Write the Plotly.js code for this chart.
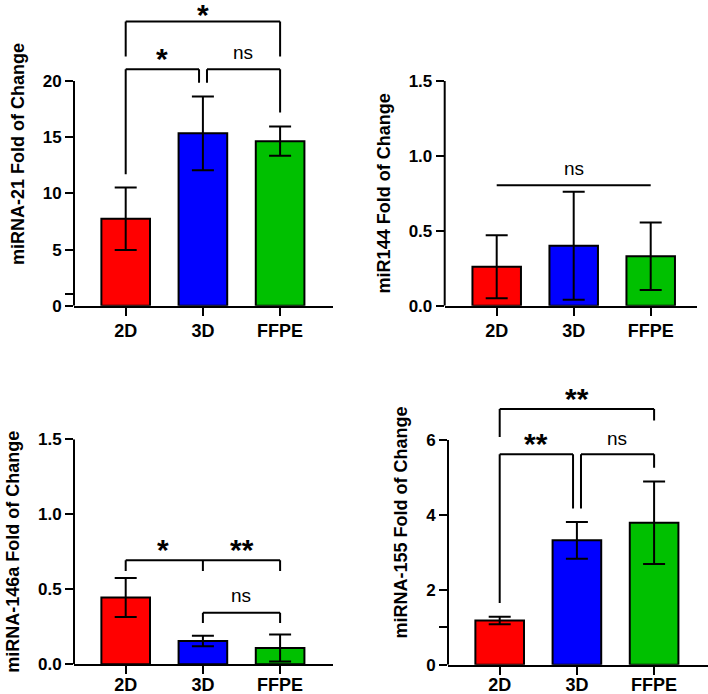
<!DOCTYPE html>
<html><head><meta charset="utf-8">
<script src="https://cdn.plot.ly/plotly-3.0.1.min.js"></script>
<style>html,body{margin:0;padding:0;background:#fff}</style>
</head><body><div id="chart" style="width:708px;height:694px"></div>
<script>
// ---------- data ----------
const categories = ['2D', '3D', 'FFPE'];

const mir21Mean = [7.75, 15.35, 14.65];
const mir21Sd   = [2.78, 3.28, 1.30];
const mir144Mean = [0.26, 0.40, 0.33];
const mir144Sd   = [0.21, 0.36, 0.225];
const mir146aMean = [0.445, 0.155, 0.108];
const mir146aSd   = [0.13, 0.035, 0.09];
const mir155Mean = [1.18, 3.32, 3.79];
const mir155Sd   = [0.10, 0.49, 1.10];

const yTitles = ['miRNA-21 Fold of Change', 'miR144 Fold of Change',
                 'miRNA-146a Fold of Change', 'miRNA-155 Fold of Change'];

const yTickVals21 = [0, 1, 5, 10, 15, 20];
const yTickText21 = ['0', '', '5', '10', '15', '20'];
const yTickValsSmall = [0, 0.5, 1, 1.5];
const yTickTextSmall = ['0.0', '0.5', '1.0', '1.5'];
const yTickVals155 = [0, 1, 2, 4, 6];
const yTickText155 = ['0', '', '2', '4', '6'];

// significance labels (comparison order as drawn)
const sig21 = ['*', 'ns', '*'];        // 2D-3D, 3D-FFPE, 2D-FFPE
const sig144 = ['ns'];                 // 2D..FFPE
const sig146a = ['*', '**', 'ns'];     // 2D-3D, 2D-FFPE, 3D-FFPE
const sig155 = ['**', 'ns', '**'];     // 2D-3D, 3D-FFPE, 2D-FFPE

// ---------- style / layout ----------
const barColors = ['#FF0000', '#0000FF', '#00C000'];
const FONT = 'Liberation Sans, Arial, Helvetica, sans-serif';
const W = 708, H = 694;

const panels = [
  {mean: mir21Mean, sd: mir21Sd, title: yTitles[0], tv: yTickVals21, tt: yTickText21,
   left: 74, right: 333, c0: 125.7, step: 77.2, y0: 305.7, ppu: 11.23, top: 27, axisMax: 20, lblOff: 0,
   brackets: [
     {x0: 0, x1: 0.95, y: 21.05, l0: 11.7, l1: 19.86},
     {x0: 1.053, x1: 2, y: 21.05, l0: 19.86, l1: 17.2},
     {x0: 0, x1: 2, y: 25.3, l0: 22.2, l1: 22.2}
   ],
   labels: [{x: 0.475, y: 22.4, t: sig21[0]}, {x: 1.52, y: 22.4, t: sig21[1]}, {x: 1, y: 26.3, t: sig21[2]}]},
  {mean: mir144Mean, sd: mir144Sd, title: yTitles[1], tv: yTickValsSmall, tt: yTickTextSmall,
   left: 444.7, right: 697, c0: 496.7, step: 77.0, y0: 305.7, ppu: 149.8, top: 1.5, axisMax: 1.5, lblOff: 0,
   brackets: [{x0: 0, x1: 2, y: 0.804, l0: null, l1: null}],
   labels: [{x: 1, y: 0.906, t: sig144[0]}]},
  {mean: mir146aMean, sd: mir146aSd, title: yTitles[2], tv: yTickValsSmall, tt: yTickTextSmall,
   left: 74, right: 332.7, c0: 125.7, step: 77.2, y0: 664.3, ppu: 150, top: 1.5, axisMax: 1.5, lblOff: -5,
   brackets: [
     {x0: 0, x1: 2, y: 0.693, l0: 0.622, l1: 0.622, mid: 1, ml: 0.622},
     {x0: 1, x1: 2, y: 0.344, l0: 0.276, l1: 0.276}
   ],
   labels: [{x: 0.487, y: 0.793, t: sig146a[0]}, {x: 1.5, y: 0.793, t: sig146a[1]}, {x: 1.49, y: 0.449, t: sig146a[2]}]},
  {mean: mir155Mean, sd: mir155Sd, title: yTitles[3], tv: yTickVals155, tt: yTickText155,
   left: 448, right: 707.5, c0: 499.7, step: 77.2, y0: 664.7, ppu: 37.45, top: 7.6, axisMax: 6, lblOff: -5,
   brackets: [
     {x0: 0, x1: 0.95, y: 5.62, l0: 1.65, l1: 4.17},
     {x0: 1.053, x1: 2, y: 5.62, l0: 4.17, l1: 5.26},
     {x0: 0, x1: 2, y: 6.83, l0: 6.08, l1: 6.52}
   ],
   labels: [{x: 0.466, y: 6.02, t: sig155[0]}, {x: 1.523, y: 6.0, t: sig155[1]}, {x: 1, y: 7.21, t: sig155[2]}]}
];

const traces = [];
const layout = {
  width: W, height: H, margin: {l: 0, r: 0, t: 0, b: 0},
  paper_bgcolor: '#fff', plot_bgcolor: 'rgba(0,0,0,0)',
  showlegend: false, shapes: [], annotations: [],
  font: {family: FONT, color: '#000'}
};

panels.forEach((p, i) => {
  const n = i + 1;
  const xs = n === 1 ? 'x' : 'x' + n;
  const ys = n === 1 ? 'y' : 'y' + n;
  traces.push({
    type: 'bar', x: categories, y: p.mean, xaxis: xs, yaxis: ys, width: 0.63,
    marker: {color: barColors, line: {color: '#000', width: 2}},
    error_y: {type: 'data', array: p.sd, visible: true, color: '#000', thickness: 2, width: 11},
    hoverinfo: 'x+y'
  });
  const topPx = p.y0 - p.top * p.ppu;
  const xa = {
    domain: [p.left / W, p.right / W], anchor: ys, type: 'category',
    range: [(p.left - p.c0) / p.step, (p.right - p.c0) / p.step],
    showline: true, linewidth: 2, linecolor: '#000', ticks: 'outside', ticklen: 8, tickwidth: 2, tickcolor: '#000',
    ticklabelstandoff: p.lblOff,
    showgrid: false, zeroline: false, tickfont: {family: FONT, size: 18, weight: 'bold', color: '#000'}
  };
  const ya = {
    domain: [1 - p.y0 / H, 1 - topPx / H], anchor: xs, range: [0, p.top],
    showline: false, showgrid: false, zeroline: false,
    ticks: 'outside', ticklen: 8, tickwidth: 2, tickcolor: '#000',
    tickvals: p.tv, ticktext: p.tt, tickfont: {family: FONT, size: 17, weight: 'bold', color: '#000'},
    title: {text: p.title, font: {family: FONT, size: 18, weight: 'bold', color: '#000'}, standoff: 13}
  };
  layout['xaxis' + (n === 1 ? '' : n)] = xa;
  layout['yaxis' + (n === 1 ? '' : n)] = ya;

  // y axis line up to last labelled tick
  layout.shapes.push({type: 'line', xref: xs + ' domain', yref: ys, x0: 0, x1: 0, y0: 0, y1: p.axisMax,
                      line: {color: '#000', width: 2}});
  const ln = {color: '#000', width: 2};
  p.brackets.forEach(b => {
    layout.shapes.push({type: 'line', xref: xs, yref: ys, x0: b.x0, x1: b.x1, y0: b.y, y1: b.y, line: ln});
    if (b.l0 != null) layout.shapes.push({type: 'line', xref: xs, yref: ys, x0: b.x0, x1: b.x0, y0: b.l0, y1: b.y, line: ln});
    if (b.l1 != null) layout.shapes.push({type: 'line', xref: xs, yref: ys, x0: b.x1, x1: b.x1, y0: b.l1, y1: b.y, line: ln});
    if (b.mid != null) layout.shapes.push({type: 'line', xref: xs, yref: ys, x0: b.mid, x1: b.mid, y0: b.ml, y1: b.y, line: ln});
  });
  p.labels.forEach(l => {
    const star = l.t !== 'ns';
    const size = star ? 30 : 19;
    layout.annotations.push({
      xref: xs, yref: ys, x: l.x, y: l.y, text: l.t, showarrow: false,
      xanchor: 'center', yanchor: 'middle',
      yshift: star ? -0.13 * size : 1.6,
      font: {family: FONT, size: size, weight: star ? 'bold' : 'normal', color: '#000'}
    });
  });
});

Plotly.newPlot('chart', traces, layout, {displayModeBar: false, staticPlot: true});
</script>
</body></html>
